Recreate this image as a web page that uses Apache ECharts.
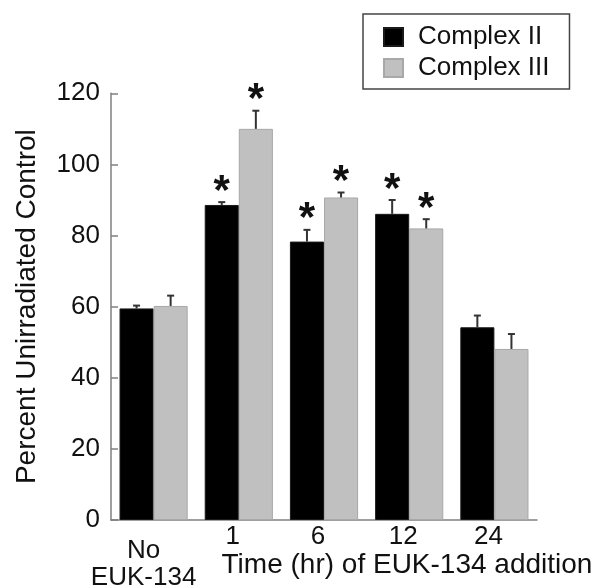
<!DOCTYPE html>
<html>
<head>
<meta charset="utf-8">
<script src="https://cdn.jsdelivr.net/npm/echarts@6/dist/echarts.min.js"></script>
<style>html,body{margin:0;padding:0;background:#fff}#c{width:595px;height:586px}</style>
</head>
<body>
<div id="c"></div>
<script>
// ---- data ----
var categories = ['No\nEUK-134', '1', '6', '12', '24'];
var complexII = [59.5, 88.6, 78.3, 86.1, 54.2];
var complexIIErr = [0.8, 0.8, 3.3, 3.9, 3.3];
var complexIISig = [false, true, true, true, false];
var complexIII = [60.2, 110.0, 90.7, 82.0, 48.1];
var complexIIIErr = [2.9, 5.1, 1.4, 2.6, 4.2];
var complexIIISig = [false, true, true, true, false];
var yTicks = [0, 20, 40, 60, 80, 100, 120];

var FONT = 'Liberation Sans, Arial, Helvetica, sans-serif';
var chart = echarts.init(document.getElementById('c'), null, {renderer: 'canvas'});

function errData(vals, errs, sig) {
  return vals.map(function (v, i) { return [i, v, v + errs[i], sig[i] ? 1 : 0]; });
}
function errSeries(vals, errs, sig, side) {
  return {
    type: 'custom',
    silent: true,
    z: 5,
    data: errData(vals, errs, sig),
    renderItem: function (params, api) {
      var idx = api.value(0);
      var band = api.size([1, 0])[0];
      var base = api.coord([idx, api.value(1)]);
      var top = api.coord([idx, api.value(2)]);
      var x = base[0] + side * band * 0.2;
      var cap = 3.5;
      var children = [
        {type: 'line', shape: {x1: x, y1: base[1], x2: x, y2: top[1]}, style: {stroke: '#333', lineWidth: 2}},
        {type: 'line', shape: {x1: x - cap, y1: top[1], x2: x + cap, y2: top[1]}, style: {stroke: '#333', lineWidth: 2}}
      ];
      if (api.value(3)) {
        children.push({type: 'text', style: {text: '*', x: x, y: top[1] - 10, align: 'center', verticalAlign: 'middle',
          fontSize: 42, fontWeight: 'bold', fontFamily: FONT, fill: '#111'}});
      }
      return {type: 'group', children: children};
    }
  };
}

var option = {
  animation: false,
  backgroundColor: '#fff',
  grid: {left: 111, right: 58, top: 93.3, bottom: 66, containLabel: false, outerBoundsMode: 'none'},
  legend: {
    data: ['Complex II', 'Complex III'],
    orient: 'vertical',
    left: 363, top: 14,
    padding: [10, 20, 8, 20],
    itemGap: 5,
    itemWidth: 19, itemHeight: 18,
    borderColor: '#444', borderWidth: 1.5,
    icon: 'rect',
    textStyle: {fontSize: 26, fontFamily: FONT, color: '#111', padding: [0, 0, 0, 10]}
  },
  xAxis: {
    type: 'category',
    data: categories.map(function (c, i) {
      return i === 0 ? {value: c, textStyle: {padding: [13, 20, 0, 0], lineHeight: 27}} : c;
    }),
    axisLine: {lineStyle: {color: '#808080', width: 1.5}},
    axisTick: {inside: true, length: 7, lineStyle: {color: '#808080', width: 1.5}},
    axisLabel: {interval: 0, fontSize: 26, fontFamily: FONT, color: '#111', margin: 4, lineHeight: 26, padding: [0, 12, 0, 0]},
    name: 'Time (hr) of EUK-134 addition',
    nameLocation: 'middle',
    nameGap: 31,
    nameMoveOverlap: false,
    nameTextStyle: {fontSize: 28, fontFamily: FONT, color: '#111', padding: [0, 0, 0, 166]}
  },
  yAxis: {
    type: 'value',
    min: yTicks[0], max: yTicks[yTicks.length - 1], interval: 20,
    splitLine: {show: false},
    axisLine: {show: true, lineStyle: {color: '#808080', width: 1.5}},
    axisTick: {show: true, inside: true, length: 7, lineStyle: {color: '#808080', width: 1.5}},
    axisLabel: {fontSize: 26, fontFamily: FONT, color: '#111', margin: 11, padding: [0, 0, 10, 0]},
    name: 'Percent Unirradiated Control',
    nameLocation: 'middle',
    nameGap: 70,
    nameMoveOverlap: false,
    nameTextStyle: {fontSize: 28, fontFamily: FONT, color: '#111'}
  },
  series: [
    {name: 'Complex II', type: 'bar', data: complexII, barGap: '0%', barCategoryGap: '20%',
     itemStyle: {color: '#000', borderColor: '#1a1a1a', borderWidth: 1}},
    {name: 'Complex III', type: 'bar', data: complexIII, barGap: '0%', barCategoryGap: '20%',
     itemStyle: {color: '#c0c0c0', borderColor: '#a8a8a8', borderWidth: 1}},
    errSeries(complexII, complexIIErr, complexIISig, -1),
    errSeries(complexIII, complexIIIErr, complexIIISig, 1)
  ]
};
chart.setOption(option);
</script>
</body>
</html>
